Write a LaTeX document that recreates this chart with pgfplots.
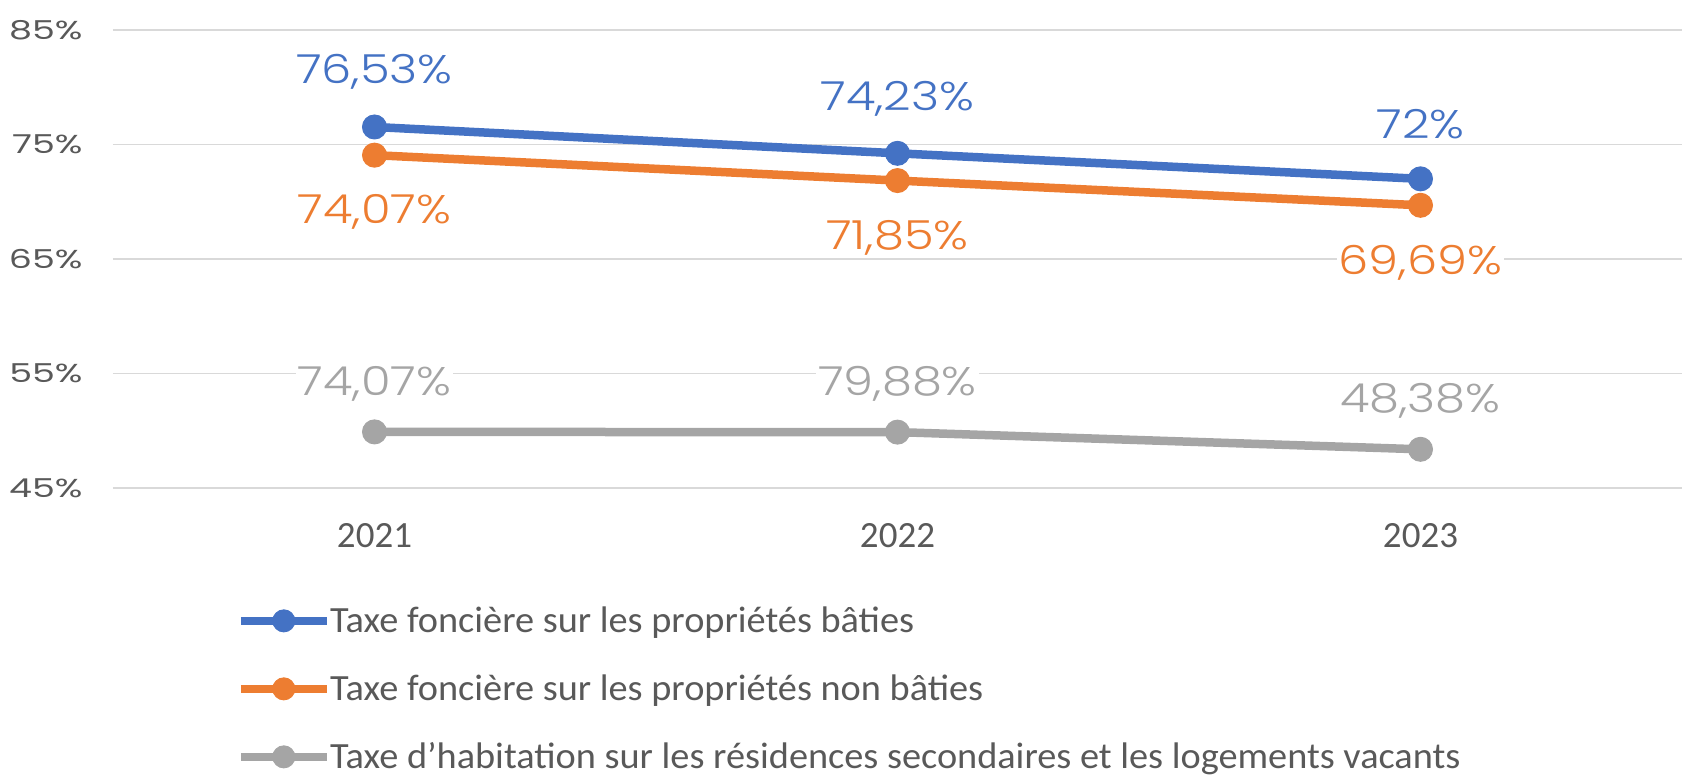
\documentclass[border=0pt]{standalone}
\usepackage{pgfplots}
\pgfplotsset{compat=1.18}
\usepackage{fontspec}
\setmainfont{Carlito}
\newfontfamily\legfont[FakeStretch=1.035]{Carlito}
\newfontfamily\pop[FakeStretch=1.4]{Poppins}
\newfontfamily\popl[FakeStretch=1.2]{Poppins Light}
\definecolor{cblue}{HTML}{4472C4}
\definecolor{corange}{HTML}{ED7D31}
\definecolor{cgray}{HTML}{A5A5A5}
\definecolor{ctick}{HTML}{595959}
\definecolor{cgrid}{HTML}{D9D9D9}
\begin{document}
\begin{tikzpicture}
\useasboundingbox (-56.5pt,-144pt) rectangle (784.5pt,244pt);
\begin{axis}[
  at={(0pt,0pt)}, anchor=south west,
  width=784.5pt, height=229pt, scale only axis,
  xmin=-0.5, xmax=2.5, ymin=45, ymax=85,
  axis line style={draw=none}, tick style={draw=none},
  ytick={45,55,65,75,85}, yticklabels={45\%,55\%,65\%,75\%,85\%},
  xtick={0,1,2}, xticklabels={2021,2022,2023},
  ymajorgrids, grid style={cgrid, line width=0.75pt},
  yticklabel style={font=\pop\fontsize{13}{13}\selectfont, text=ctick, anchor=east, inner sep=0pt, xshift=-15pt},
  xticklabel style={font=\fontsize{18.5}{18.5}\selectfont, text=ctick, anchor=center, inner sep=0pt, yshift=-24pt},
  point meta=explicit symbolic,
  legend cell align=left,
  legend image code/.code={\draw[mark repeat=2,mark phase=2,#1,mark size=5.5pt] plot coordinates {(0pt,0pt) (21.5pt,0pt) (43pt,0pt)};},
  legend style={draw=none, fill=none, at={(axis description cs:0.0785,-0.239)}, anchor=north west, inner sep=0pt, row sep=11pt, column sep=-2pt,
    font=\legfont\fontsize{18.5}{18.5}\selectfont, text=ctick,
    nodes={inner sep=1.5pt, text height=16pt, text depth=4pt}},
]
\addplot[cblue, line width=4.25pt, mark=*, mark size=6pt, mark options={line width=0.5pt},
  nodes near coords,
  every node near coord/.append style={font=\popl\fontsize{20}{20}\selectfont, text=cblue, fill=white, inner sep=1pt, anchor=center, yshift=27.5pt}]
  coordinates {(0,76.53) [76,53\%] (1,74.23) [74,23\%] (2,72) [72\%]};
\addlegendentry{Taxe foncière sur les propriétés bâties}
\addplot[corange, line width=4.25pt, mark=*, mark size=6pt, mark options={line width=0.5pt},
  nodes near coords,
  every node near coord/.append style={font=\popl\fontsize{20}{20}\selectfont, text=corange, fill=white, inner sep=1pt, anchor=center, yshift=-28.5pt}]
  coordinates {(0,74.07) [74,07\%] (1,71.85) [71,85\%] (2,69.69) [69,69\%]};
\addlegendentry{Taxe foncière sur les propriétés non bâties}
\addplot[cgray, line width=4.25pt, mark=*, mark size=6pt, mark options={line width=0.5pt},
  nodes near coords,
  every node near coord/.append style={font=\popl\fontsize{20}{20}\selectfont, text=cgray, fill=white, inner sep=1pt, anchor=center, yshift=24pt}]
  coordinates {(0,49.9) [74,07\%] (1,49.88) [79,88\%] (2,48.38) [48,38\%]};
\addlegendentry{Taxe d’habitation sur les résidences secondaires et les logements vacants}
\end{axis}
\end{tikzpicture}
\end{document}
